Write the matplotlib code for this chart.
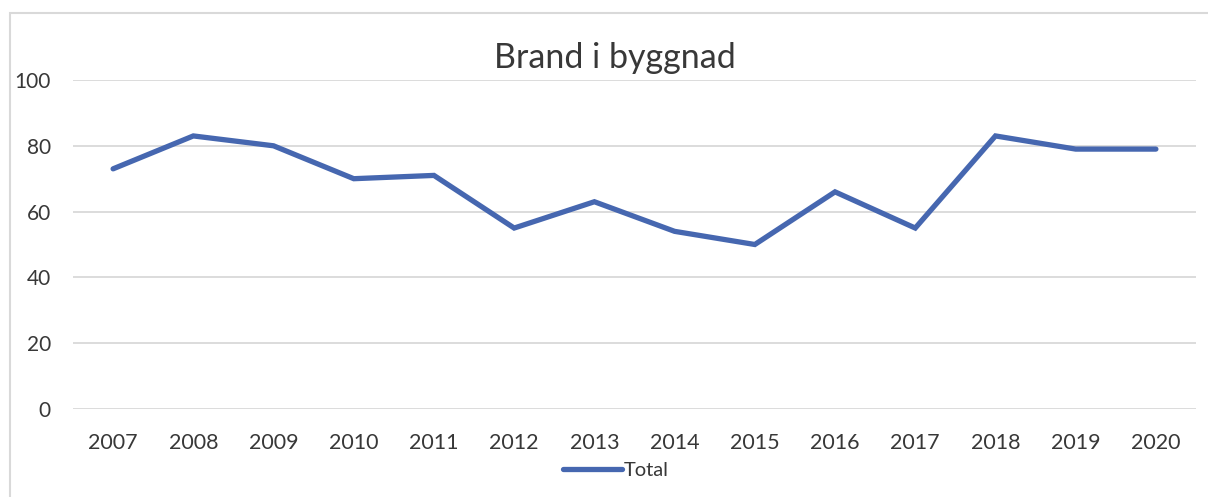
import matplotlib
matplotlib.use("Agg")
import matplotlib.pyplot as plt
from matplotlib.lines import Line2D
from matplotlib.patches import Rectangle

years = ["2007", "2008", "2009", "2010", "2011", "2012", "2013", "2014",
         "2015", "2016", "2017", "2018", "2019", "2020"]
total = [73, 83, 80, 70, 71, 55, 63, 54, 50, 66, 55, 83, 79, 79]
yticks = [0, 20, 40, 60, 80, 100]

plt.rcParams['font.family'] = ['Lato', 'DejaVu Sans']

W, H = 1208, 497
fig = plt.figure(figsize=(W / 100, H / 100), dpi=100)
fig.patch.set_facecolor('white')

LINE = '#4667B0'
TXT = '#383838'

# outer chart border
fig.patches.append(Rectangle((10 / W, -0.1), 1.2, 1 - 13 / H + 0.1,
                             transform=fig.transFigure, fill=False,
                             edgecolor='#d9d9d9', linewidth=1.5))

left, right = 73 / W, 1196 / W
bottom, top = 1 - 409 / H, 1 - 80 / H
ax = fig.add_axes([left, bottom, right - left, top - bottom])

x = list(range(len(years)))
ax.plot(x, total, color=LINE, linewidth=3.8, solid_capstyle='round',
        solid_joinstyle='miter', label='Total', zorder=3)

ax.set_xlim(-0.5, len(years) - 0.5)
ax.set_ylim(0, 100)
ax.set_yticks(yticks)
ax.set_xticks(x)
ax.set_xticklabels(years)
for s in ax.spines.values():
    s.set_visible(False)
ax.grid(axis='y', color='#d9d9d9', linewidth=1.3)
ax.set_axisbelow(True)
ax.tick_params(axis='both', length=0, colors=TXT)
ax.tick_params(axis='x', pad=17, labelsize=15.5)
ax.tick_params(axis='y', pad=16, labelsize=15)
for lbl in ax.get_yticklabels():
    lbl.set_horizontalalignment('right')

fig.text(615 / W, 1 - 58 / H, "Brand i byggnad", ha='center', va='center',
         fontsize=24.5, color=TXT)

leg = fig.legend(handles=[Line2D([0], [0], color=LINE, linewidth=3.8,
                                 solid_capstyle='round')],
                 labels=['Total'], loc='center', bbox_to_anchor=(616 / W, 1 - 470 / H),
                 frameon=False, fontsize=14.5, handlelength=2.9, handletextpad=0.1,
                 labelcolor=TXT)

fig.savefig("out.png", dpi=100, facecolor='white')
